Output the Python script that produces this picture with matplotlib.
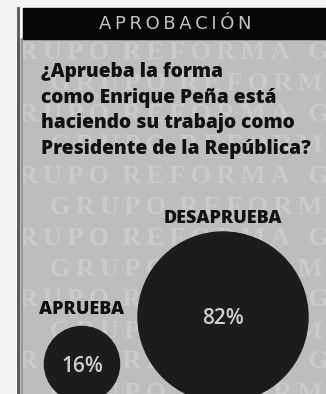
import matplotlib
matplotlib.use("Agg")
import matplotlib.pyplot as plt
from matplotlib.patches import Rectangle, Circle
import numpy as np

title = "APROBACIÓN"
question = ["¿Aprueba la forma",
            "como Enrique Peña está",
            "haciendo su trabajo como",
            "Presidente de la República?"]
categories = ["APRUEBA", "DESAPRUEBA"]
values = [16, 82]
watermark = "GRUPO REFORMA"

W, H = 326, 394
fig = plt.figure(figsize=(W / 100, H / 100), dpi=100)
ax = fig.add_axes([0, 0, 1, 1])
ax.set_xlim(0, W)
ax.set_ylim(H, 0)
ax.axis("off")

# gray panel
ax.add_patch(Rectangle((0, 0), W, H, color="#f4f4f4", zorder=0))
ax.add_patch(Rectangle((17, 39), W - 17, H - 39, color="#bdbdbd", zorder=0))

# watermark rows
spaced = "\u2009".join(watermark).replace("\u2009 \u2009", "  ")
wm = (spaced + "   ") * 2
for i, y in enumerate(np.arange(52, 400, 31)):
    x0 = -7 if i % 2 == 0 else 50
    ax.text(x0, y, wm, fontsize=19, family="Liberation Serif", weight="bold",
            color="#cacaca", va="center", ha="left", zorder=1)

# white margin on the left and the frame lines
ax.add_patch(Rectangle((0, 0), 17, H, color="#f4f4f4", zorder=2))
ax.plot([18, 18], [8, H], color="#555555", lw=2, zorder=2)
ax.plot([22, 22], [39, H], color="#999999", lw=1.5, zorder=2)

# title bar
ax.add_patch(Rectangle((23, 8), W - 23, 31, color="#060606", zorder=2))
ax.text(175, 24, "\u2009".join(title), fontsize=13, family="DejaVu Sans",
        color="#c4c4c4", ha="center", va="center", zorder=3)

# question
for i, line in enumerate(question):
    ax.text(41, 72 + i * 25.5, line, fontsize=13.8, family="Open Sans",
            weight="heavy", color="#111111", ha="left", va="center", zorder=3)

# bubbles, area proportional to value
R = 85
centers = [(82, 364), (223, 317)]
label_y = [310, 218]
for cat, v, (cx, cy), ly in zip(categories, values, centers, label_y):
    r = R * np.sqrt(v / max(values))
    ax.add_patch(Circle((cx, cy), r, color="#1c1c1c", zorder=3))
    ax.text(cx, cy + 2, f"{v}%", fontsize=15, family="Open Sans",
            weight="semibold", color="#cfcfcf", ha="center", va="center",
            zorder=4)
    ax.text(cx, ly, cat, fontsize=13, family="Open Sans", weight="heavy",
            color="#111111", ha="center", va="center", zorder=4)

fig.savefig("out.png", dpi=100)
